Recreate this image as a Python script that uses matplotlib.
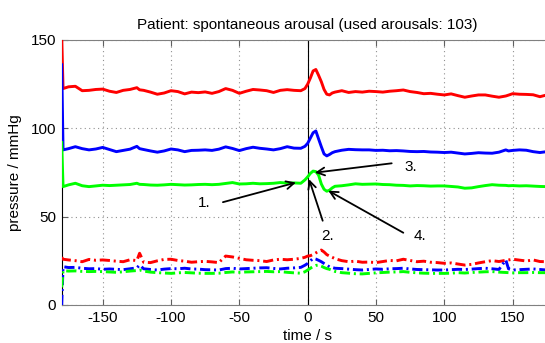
import matplotlib
matplotlib.use('Agg')
import matplotlib.pyplot as plt

plt.rcParams['font.family'] = ['Liberation Sans', 'DejaVu Sans']
plt.rcParams['axes.unicode_minus'] = False

# time grid (s), shared by all traces
t = [-180, -179, -175, -170, -165, -160, -155, -150, -145, -140,
     -135, -130, -125, -123, -120, -115, -110, -105, -100, -95,
     -90, -85, -80, -75, -70, -65, -60, -55, -50, -45,
     -40, -35, -30, -25, -20, -15, -10, -5, -2, 0,
     2, 4, 6, 8, 10, 12, 14, 16, 18, 20,
     25, 30, 35, 40, 45, 50, 55, 60, 65, 70,
     75, 80, 85, 90, 95, 100, 105, 110, 115, 120,
     125, 130, 135, 140, 145, 147, 150, 155, 160, 165,
     170, 175, 180]

red_solid = [152, 122.5, 123.5, 123.8, 121.3, 121.5, 122, 122.2, 121, 120.3,
             121.5, 122, 123, 121.8, 121.5, 120.5, 119.3, 120, 121.3, 120.8,
             119.5, 120.5, 120.2, 120.6, 119.8, 120.8, 122.5, 121.5, 119.8, 121,
             122, 121.7, 121.3, 120.3, 121.5, 121.9, 121.5, 121.3, 122.5, 125,
             128.5, 132.5, 133.3, 130, 126.4, 122, 119.3, 118.9, 120, 120.5,
             121.3, 120.3, 120.8, 120.5, 121, 120.8, 120.5, 121, 121.3, 121.7,
             120.8, 120.3, 119.6, 119.8, 119.3, 118.9, 119.5, 118.5, 117.6, 118.3,
             118.9, 118.9, 118.2, 117.6, 118.3, 118.8, 119.6, 119.3, 119.2, 119,
             117.9, 118.9, 119]
blue_solid = [136, 87.8, 88.5, 89.6, 88.5, 87.8, 88.3, 89.2, 88, 86.8,
              87.5, 88.2, 89.8, 88.5, 88, 87.2, 86.5, 87.2, 88.3, 87.8,
              86.8, 87.5, 87.6, 87.8, 87.5, 88.2, 89.5, 88.6, 87.4, 88.5,
              89.3, 88.7, 88.3, 87.8, 88.5, 89.6, 88.8, 88.7, 89.8, 91.5,
              94.5, 97.5, 98.5, 94, 89.6, 85.5, 84.4, 85.2, 86.2, 86.8,
              87.6, 88.1, 87.9, 87.8, 87.8, 87.5, 87.6, 87.3, 87.4, 87.2,
              86.9, 86.8, 86.9, 86.6, 86.5, 86.3, 86.5, 86, 85.5, 85.8,
              86.2, 86, 85.9, 86.5, 87.8, 87.2, 87.5, 87.8, 87.6, 86.8,
              86.3, 86.8, 86.8]
green_solid = [92, 67, 68, 68.9, 67.5, 67, 67.4, 67.8, 67.6, 67.8,
               68, 68.2, 68.9, 68.3, 68.2, 67.9, 67.8, 68, 68.3, 68.1,
               67.9, 68, 68.2, 68.3, 68.1, 68.3, 68.8, 69.3, 68.5, 68.6,
               68.9, 68.6, 68.7, 68.9, 69.3, 69, 69.1, 68.9, 70.8, 72.5,
               74.5, 75.8, 75.5, 73.5, 68.5, 65.5, 64.4, 65, 66.3, 67.2,
               67.5, 68, 68.6, 68.3, 68.4, 68.5, 68.2, 68.1, 67.8, 67.7,
               67.4, 67.6, 67.5, 67.3, 67.4, 67.4, 67.1, 66.8, 66.1, 66.3,
               67, 67.6, 68.1, 67.8, 67.7, 67.5, 67.6, 67.4, 67.5, 67.3,
               67.1, 67, 67]

red_dash = [27, 25.9, 25.5, 25.1, 24.5, 25.8, 25.3, 25.5, 25.2, 24.8,
            24.5, 25.6, 25.1, 29.3, 24.2, 24, 25, 25.8, 25.9, 25.2,
            24.8, 24.2, 24.5, 24.7, 24.4, 24, 27.7, 27.2, 26.4, 25.6,
            25.3, 25.1, 24.6, 25.5, 25.9, 25.6, 25.9, 26.4, 27, 27.7,
            27.9, 28.6, 29.5, 30.4, 31.1, 30, 28.5, 27.7, 27, 26.2,
            25.1, 24.5, 24.8, 24.2, 24.3, 24, 24.6, 25.2, 25, 25.9,
            25.2, 24.5, 24.8, 24.2, 24, 23.6, 23.8, 23.2, 22.6, 23,
            23.8, 24.5, 25.1, 24.6, 25.3, 25.5, 25.9, 25.4, 24.9, 25.5,
            24.6, 24.5, 24.5]
blue_dash = [0, 21.7, 21.2, 21.3, 20.8, 20.5, 20.6, 20.2, 20.4, 20.2,
             20, 20.5, 21, 22.6, 20.5, 20.1, 19.8, 20.3, 20.6, 20.5,
             20.8, 20.4, 20.3, 20, 19.9, 19.8, 20.6, 20.8, 20.4, 20.6,
             20.8, 21, 21.1, 20.7, 20.4, 20.8, 21, 21.3, 22.5, 23.5,
             25, 26.4, 26, 25.3, 24.5, 23.5, 22.5, 21.6, 21.2, 20.8,
             20.6, 20.3, 20, 19.8, 20.1, 20.4, 20.2, 20.5, 20.6, 20.8,
             20.4, 20.1, 20, 19.9, 19.8, 19.8, 20, 20.2, 20.1, 20.3,
             20.6, 20.8, 20.5, 20.1, 25.5, 20.5, 19.8, 20, 20.2, 20.4,
             20.1, 19.8, 19.8]
green_dash = [10, 19.4, 19.2, 19.3, 19, 18.9, 19, 18.9, 18.7, 18.5,
              18.8, 19.2, 19.5, 19.8, 19.2, 18.6, 18.3, 18.1, 17.9, 18.2,
              18.4, 18.2, 18, 17.9, 17.9, 18, 18.4, 18.7, 18.5, 18.7,
              18.8, 18.9, 19, 18.8, 18.9, 18.5, 18.2, 18, 18.8, 19.8,
              20.8, 21.8, 22.4, 22.6, 22, 21.2, 20.6, 20.2, 19.6, 19,
              18.3, 18, 17.7, 17.6, 17.9, 18.2, 18.4, 18.6, 18.7, 18.9,
              18.5, 18.2, 18, 17.9, 17.9, 17.9, 18, 18.3, 18.1, 18.4,
              18.6, 18.8, 18.9, 18.6, 18.4, 18.3, 18.2, 18.3, 18.3, 18.4,
              18.3, 18.3, 18.3]

# annotation labels: (text, text position, arrow tail, arrow tip)
labels = ['1.', '2.', '3.', '4.']
text_xy = [(-76, 58), (14.5, 39), (75.5, 78), (82, 39)]
tail_xy = [(-62, 58.2), (11, 47.7), (61.5, 80.2), (70, 40.9)]
head_xy = [(-8.6, 69.3), (1, 71.2), (5.3, 74.9), (15.1, 64.7)]

fig = plt.figure(figsize=(5.45, 3.43), dpi=100)
ax = fig.add_axes([0.1132, 0.1108, 0.9026, 0.7726])

dd = (0, (3.5, 1.3, 0.7, 1.3))
ax.plot(t, red_solid, color='r', lw=2.1, zorder=3)
ax.plot(t, blue_solid, color='b', lw=2.1, zorder=3)
ax.plot(t, green_solid, color=(0, 1, 0), lw=2.1, zorder=3)
ax.plot(t, red_dash, color='r', lw=2.1, ls=dd, zorder=3)
ax.plot(t, blue_dash, color='b', lw=2.1, ls=dd, zorder=3)
ax.plot(t, green_dash, color=(0, 1, 0), lw=2.1, ls=dd, zorder=3)
ax.axvline(0, color='k', lw=0.8, zorder=2)

for lab, txy, a, b in zip(labels, text_xy, tail_xy, head_xy):
    ax.annotate('', xy=b, xytext=a,
                arrowprops=dict(arrowstyle='->', color='k', lw=1.3,
                                mutation_scale=14, shrinkA=0, shrinkB=0),
                zorder=4)
    ax.text(txy[0], txy[1], lab, fontsize=11, ha='center', va='center')

ax.set_xlim(-180, 180)
ax.set_ylim(0, 150)
ax.set_xticks([-150, -100, -50, 0, 50, 100, 150])
ax.set_yticks([0, 50, 100, 150])
ax.grid(True, color='#909090', ls=(0, (1, 3)), lw=0.8)
ax.tick_params(direction='in', length=4, top=True, right=True,
               labelsize=11, color='#606060', pad=4)
for side in ['top', 'bottom', 'right']:
    ax.spines[side].set_color('#808080')
ax.spines['left'].set_color('k')
ax.set_xlabel('time / s', fontsize=11, labelpad=3)
ax.set_ylabel('pressure / mmHg', fontsize=11, labelpad=6)
ax.set_title('Patient: spontaneous arousal (used arousals: 103)',
             fontsize=11, pad=8)

fig.savefig('out.png', dpi=100)
